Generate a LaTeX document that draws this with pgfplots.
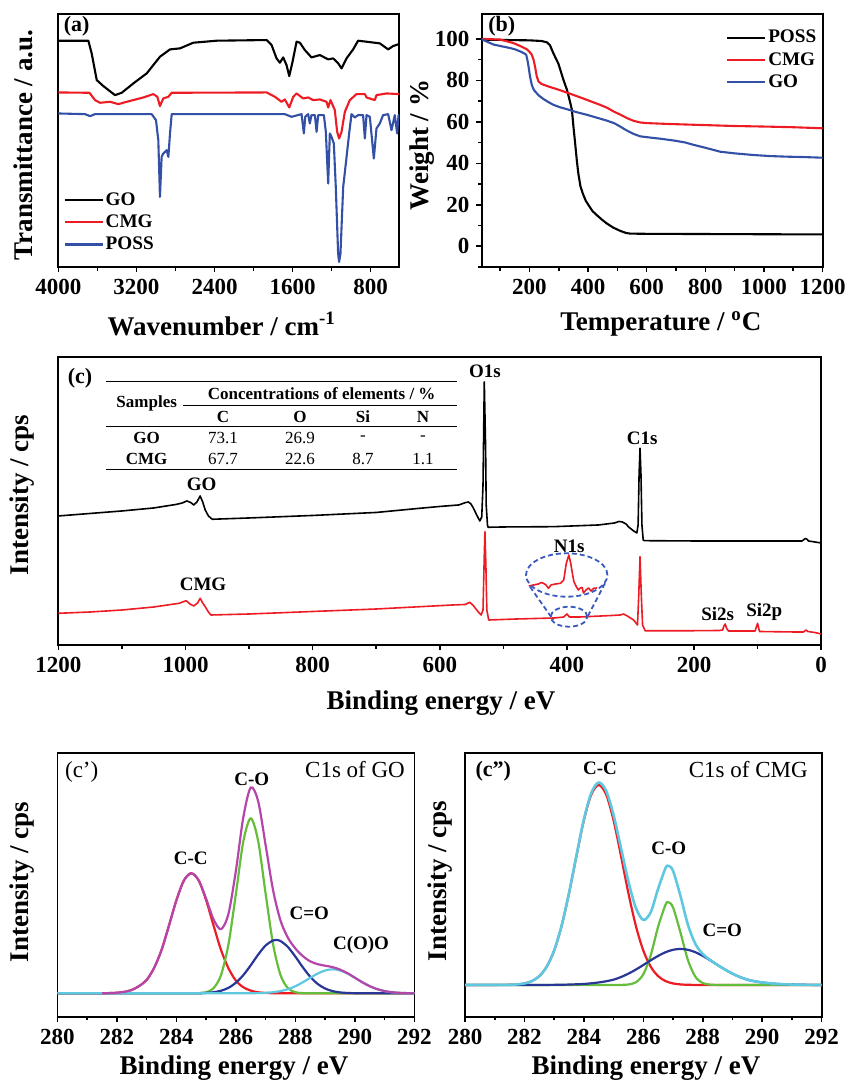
\documentclass[border=0pt]{standalone}
\usepackage{fontspec}
\setmainfont{Liberation Serif}
\usepackage{pgfplots}
\pgfplotsset{compat=1.18}

% colours picked off the figure
\definecolor{cRed}{RGB}{237,28,36}
\definecolor{cBlue}{RGB}{50,80,165}
\definecolor{fGreen}{RGB}{100,190,60}
\definecolor{fBlue}{RGB}{40,55,150}
\definecolor{fCyan}{RGB}{95,200,225}
\definecolor{fPurple}{RGB}{180,70,170}
\definecolor{dashBlue}{RGB}{60,90,190}

\newcommand{\tickfont}{\bfseries\fontsize{11.5}{12}\selectfont}
\newcommand{\labfont}{\bfseries\fontsize{13.5}{14}\selectfont}
\newcommand{\annfont}{\bfseries\fontsize{9.5}{10}\selectfont}
\newcommand{\tagfont}{\bfseries\fontsize{11}{12}\selectfont}
\newcommand{\regfont}{\fontsize{11.5}{12}\selectfont}
\newcommand{\tabfont}{\fontsize{8.5}{9}\selectfont}

\pgfplotsset{
  panel/.style={
    scale only axis, anchor=north west,
    axis line style={line width=0.9pt},
    tick align=outside, tick pos=left,
    major tick length=2.6pt, minor tick length=1.8pt,
    tick style={black, line width=0.8pt},
    tick label style={font=\tickfont},
    /pgf/number format/assume math mode=true,
    /pgf/number format/1000 sep={},
    every axis plot/.append style={line width=1.05pt, line join=round},
    legend cell align=left,
    legend image code/.code={\draw[##1] (0pt,0pt) -- (19pt,0pt);},
    legend style={draw=none, fill=none, inner sep=0pt,
      font=\bfseries\fontsize{9.6}{10.5}\selectfont,
      nodes={inner ysep=1.6pt, inner xsep=1pt}},
  },
}

\begin{document}
\begin{tikzpicture}
\useasboundingbox (0pt,0pt) rectangle (423.5pt,-541pt);

% ---------------- (a) FTIR ----------------
\begin{axis}[panel, at={(29.2pt,-7pt)}, width=170.5pt, height=126.5pt,
  x dir=reverse, xmin=505, xmax=4000, ymin=0, ymax=758,
  xtick={800,1600,2400,3200,4000}, minor xtick={1200,2000,2800,3600},
  ytick=\empty,
  legend style={at={(axis description cs:0.014,0.309)}, anchor=north west}]
\addplot[black] coordinates {
(4000,678) (3693,678) (3659,640) (3607,560) (3539,542) (3420,515) (3351,522)
(3232,550) (3095,580) (2959,630) (2856,652) (2754,655) (2617,672) (2378,678)
(1866,680) (1815,665) (1764,625) (1730,612) (1696,628) (1662,605) (1634,572)
(1600,615) (1559,675) (1525,672) (1474,650) (1406,628) (1320,635) (1235,622)
(1184,625) (1132,610) (1098,595) (1047,625) (979,652) (928,678) (842,675)
(706,670) (620,652) (569,662) (507,668)};
\addplot[cRed] coordinates {
(4000,523) (3682,522) (3624,500) (3573,492) (3471,495) (3385,488) (3300,495)
(3129,508) (3027,518) (2986,510) (2959,482) (2925,505) (2873,510) (2839,522)
(1866,523) (1781,510) (1713,495) (1679,502) (1634,478) (1593,510) (1559,520)
(1491,505) (1440,508) (1389,500) (1320,502) (1252,495) (1235,478) (1211,500)
(1167,470) (1143,405) (1123,385) (1098,405) (1064,465) (1013,500) (945,518)
(859,518) (842,508) (757,500) (740,515) (637,520) (507,518)};
\addplot[cBlue] coordinates {
(4000,460) (3727,458) (3676,452) (3624,458) (3044,458) (3000,440) (2976,380)
(2959,210) (2942,330) (2925,340) (2890,350) (2873,330) (2856,400) (2839,458)
(1679,458) (1610,450) (1508,458) (1484,400) (1470,450) (1440,458) (1423,430)
(1406,455) (1371,455) (1354,405) (1337,455) (1279,455) (1259,405) (1235,250)
(1218,400) (1201,390) (1177,370) (1157,240) (1133,40) (1123,15) (1109,40)
(1081,240) (1054,310) (1020,400) (996,458) (962,448) (928,455) (877,455)
(859,385) (842,455) (808,450) (767,325) (740,415) (706,430) (672,455)
(620,458) (586,410) (552,455) (528,400) (514,455) (507,455)};
\legend{GO,CMG,POSS}
\end{axis}

% ---------------- (b) TGA ----------------
\begin{axis}[panel, at={(240.8pt,-7pt)}, width=170.5pt, height=126.5pt,
  xmin=37, xmax=1200, ymin=-10, ymax=112,
  xtick={200,400,...,1200}, minor xtick={100,300,...,1100},
  ytick={0,20,...,100}, minor ytick={-10,10,30,50,70,90},
  legend style={at={(axis description cs:0.716,0.95)}, anchor=north west}]
\addplot[black] coordinates {
(37,99.5) (100,99.5) (200,99.3) (240,99) (259,98.4) (270,97) (282,93) (299,88)
(316,80.3) (328,75.5) (338,70) (345,65.8) (350,58) (356,49.7) (362,41) (367,35)
(374,29) (382,25.5) (392,22) (402,19.8) (415,17) (430,15) (446,13) (464,11)
(486,9) (510,7.4) (530,6.4) (544,6.1) (600,6.0) (800,5.9) (1000,5.8) (1200,5.7)};
\addplot[cRed] coordinates {
(37,100) (100,99.7) (145,98) (170,96.5) (191,95) (200,93.8) (208,92.4) (214,90)
(219,86.8) (225,82) (231,79.5) (240,78.4) (248,77.9) (270,76.8) (293,75.8)
(320,74.5) (350,73) (396,70.6) (441,68.2) (465,66.8) (487,65) (510,63.5)
(533,61.8) (555,60.5) (578,59.7) (600,59.4) (669,59) (783,58.5) (897,58)
(1011,57.7) (1100,57.4) (1200,56.9)};
\addplot[cBlue] coordinates {
(37,99.8) (50,99) (77,97.3) (100,96.6) (134,95.6) (150,95) (168,94) (180,93.2)
(189,92.4) (193,90) (197,86.8) (202,82) (208,77.9) (213,76) (219,74.7)
(233,72.6) (248,71) (265,69.5) (282,68.2) (305,67) (328,66.1) (360,64.7)
(396,63.4) (430,62) (464,60.6) (490,59.3) (510,57.7) (530,56) (555,54.2)
(578,53) (601,52.6) (650,51.8) (692,51) (730,50.1) (760,48.9) (800,47.5)
(851,45.6) (900,44.8) (965,44) (1020,43.5) (1079,43.2) (1140,43) (1200,42.7)};
\legend{POSS,CMG,GO}
\end{axis}

% ---------------- (c) XPS survey ----------------
\begin{axis}[panel, at={(29.2pt,-178.3pt)}, width=381.4pt, height=144.2pt,
  x dir=reverse, xmin=0, xmax=1200, ymin=0, ymax=288.3,
  xtick={0,200,...,1200}, minor xtick={100,300,...,1100}, ytick=\empty,
  every axis plot/.append style={line width=0.8pt}]
\addplot[black] coordinates {
(1200,129) (1150,131.5) (1100,134) (1050,137) (1015,140.5) (1005,142) (998,144)
(992,142.5) (987,140) (982,143) (977,149) (973,143) (969,135) (964,129)
(958,125.7) (900,127) (800,129.5) (700,132.5) (631,136.7) (600,138.5) (570,140)
(560,142.3) (555,143) (551,141) (547,136.7) (542,130) (537,124) (534,128)
(532,160) (530,263) (528,200) (527,140) (525,120) (524,117.7) (500,118)
(421,118.3) (350,120) (325,122) (318,123.5) (313,123) (307,121) (303,118)
(295,114) (290,112) (288,120) (286.5,170) (285,196.7) (283.5,170) (282,120)
(280,105) (278,104.3) (200,104) (100,104) (30,104) (25,106.5) (22,105.5)
(20,104) (10,103) (0,102)};
\addplot[cRed] coordinates {
(1200,31.7) (1150,33) (1100,35) (1050,38) (1010,41.7) (999,44.3) (993,41)
(987,39) (981,42) (977,46.7) (973,42) (969,38.3) (964,33) (960,30) (900,31)
(800,33.5) (700,36) (631,38.3) (580,40) (560,40.5) (553,42.7) (548,40)
(544,36.7) (538,32) (535,30) (532,35) (530,90) (529,113.3) (527.5,80) (526,35)
(523,25) (480,26) (420,27) (405,28) (400,31) (396,28) (380,28) (330,29.5)
(316,30) (311,31) (305,29) (295,25) (289,20) (287,50) (285,88.3) (283,50)
(281,20) (277,14.3) (200,14.3) (160,14.5) (155,15) (153,19) (151,21) (149,17)
(146,14) (110,14) (104,14) (102,18) (100,21.7) (98,16) (97,13.5) (40,13)
(28,13) (24,15) (21,13.5) (10,12.5) (0,11)};
% magnified N1s region
\addplot[cRed] coordinates {
(460,59) (452,60) (445,61) (440,62.5) (437,61.7) (433,60) (429,56.7) (425,60)
(418,61) (410,61.7) (405,65) (401,81.7) (397,90) (394,81.7) (391,70) (389,63.3)
(385,58) (382,55) (379,57) (376,57.5) (374,52) (370,55) (366,57) (362,54)
(358,56.7) (353,57)};
\end{axis}

% ---------------- (c') C1s of GO ----------------
\begin{axis}[panel, at={(28.7pt,-376.3pt)}, width=178.5pt, height=132pt,
  xmin=280, xmax=292, ymin=-70, ymax=722,
  xtick={280,282,...,292}, minor xtick={281,283,...,291}, ytick=\empty,
  every axis plot/.append style={line width=1.1pt, smooth, tension=0.5}]
\addplot[cRed] coordinates {
(280,0) (281.5,0.2) (281.75,0.6) (282,1.6) (282.25,4.2) (282.5,10) (282.75,22)
(283,40) (283.25,76) (283.5,130) (283.75,203) (284,279) (284.25,338) (284.5,360)
(284.75,338) (285,279) (285.25,203) (285.5,130) (285.75,75) (286,38) (286.25,18)
(286.5,8) (286.75,3) (287,1) (287.25,0.3) (287.5,0) (292,0)};
\addplot[fGreen] coordinates {
(280,0) (284.5,0) (284.75,0.5) (285,3.2) (285.25,15.3) (285.5,54.6) (285.75,147)
(286,298.1) (286.25,455.7) (286.5,525) (286.75,455.7) (287,298.1) (287.25,147)
(287.5,54.6) (287.75,15.3) (288,3.2) (288.25,0.5) (288.5,0) (292,0)};
\addplot[fBlue] coordinates {
(280,0) (284.5,0.1) (284.75,0.4) (285,1.2) (285.25,3.2) (285.5,7.6) (285.75,16.4)
(286,31.7) (286.25,54.6) (286.5,84.2) (286.75,116.2) (287,143.5) (287.25,158.6)
(287.35,160) (287.5,156.8) (287.75,138.7) (288,109.9) (288.25,77.9) (288.5,49.4)
(288.75,28) (289,14.2) (289.25,6.5) (289.5,2.6) (289.75,1) (290,0.3) (290.25,0)
(292,0)};
\addplot[fCyan] coordinates {
(280,0) (286,0) (286.25,0.06) (286.5,0.2) (286.75,0.5) (287,1.4) (287.25,3.2)
(287.5,6.6) (287.75,12.4) (288,21.2) (288.25,33) (288.5,46.4) (288.75,59.3)
(289,68.5) (289.25,72) (289.5,68.5) (289.75,59.3) (290,46.4) (290.25,33)
(290.5,21.2) (290.75,12.4) (291,6.6) (291.25,3.2) (291.5,1.4) (291.75,0.5)
(292,0.2)};
\addplot[fPurple] coordinates {
(281.5,0.2) (281.75,0.6) (282,1.6) (282.25,4.2) (282.5,10) (282.75,22) (283,40)
(283.25,76) (283.5,130) (283.75,203) (284,279) (284.25,338) (284.5,360.1)
(284.75,338.9) (285,283.4) (285.25,221.5) (285.5,192.2) (285.75,238.4)
(286,367.8) (286.25,528.4) (286.5,617.4) (286.75,575.4) (287,444) (287.25,309.1)
(287.5,218) (287.75,166.4) (288,134.3) (288.25,111.4) (288.5,95.8) (288.75,87.3)
(289,82.7) (289.25,78.5) (289.5,71.1) (289.75,60.3) (290,46.7) (290.25,33)
(290.5,21.2) (290.75,12.4) (291,6.6) (291.25,3.2) (291.5,1.4) (291.75,0.5)
(292,0.2)};
\end{axis}

% ---------------- (c'') C1s of CMG ----------------
\begin{axis}[panel, at={(232.5pt,-376.3pt)}, width=178.3pt, height=132pt,
  xmin=280, xmax=292, ymin=-95, ymax=697,
  xtick={280,282,...,292}, minor xtick={281,283,...,291}, ytick=\empty,
  every axis plot/.append style={line width=1.1pt, smooth, tension=0.5}]
\addplot[cRed] coordinates {
(280,0) (281.25,0.2) (281.5,0.5) (281.75,1.6) (282,4.5) (282.25,11.5) (282.5,26.3)
(282.75,54.8) (283,103.2) (283.25,177) (283.5,274.8) (283.75,386.4) (284,493.8)
(284.25,571.2) (284.5,600) (284.75,571.2) (285,493.8) (285.25,386.4)
(285.5,274.8) (285.75,177) (286,103.2) (286.25,54.8) (286.5,26.3) (286.75,11.5)
(287,4.5) (287.25,1.6) (287.5,0.5) (287.75,0.16) (288,0) (292,0)};
\addplot[fGreen] coordinates {
(280,0) (285,0) (285.25,0.17) (285.5,1.4) (285.75,8) (286,32) (286.25,89.4)
(286.5,175.3) (286.75,241.1) (286.85,248) (287,232.7) (287.25,157.6) (287.5,74.9)
(287.75,25) (288,5.8) (288.25,1) (288.5,0.1) (288.75,0) (292,0)};
\addplot[fBlue] coordinates {
(280,0) (282.5,0) (282.75,0.1) (283,0.3) (283.25,0.6) (283.5,1.2) (283.75,2)
(284,3) (284.25,5) (284.5,7.5) (284.75,11) (285,15.9) (285.25,23.8) (285.5,33.9)
(285.75,46.1) (286,59.8) (286.25,74) (286.5,87.3) (286.75,98.3) (287,105.5)
(287.25,108) (287.5,105.5) (287.75,98.3) (288,87.3) (288.25,74) (288.5,59.8)
(288.75,46.1) (289,33.9) (289.25,23.8) (289.5,15.9) (289.75,11) (290,7.5)
(290.25,5) (290.5,3) (290.75,2) (291,1.2) (291.25,0.6) (291.5,0.3) (291.75,0.1)
(292,0)};
\addplot[fCyan, line width=1.3pt] coordinates {
(280,0) (281.25,0.2) (281.5,0.5) (281.75,1.6) (282,4.5) (282.25,11.5) (282.5,26.3)
(282.75,54.9) (283,103.5) (283.25,177.6) (283.5,276) (283.75,388.4) (284,496.8)
(284.25,576.2) (284.5,607.5) (284.75,582.2) (285,509.7) (285.25,410.4)
(285.5,310.1) (285.75,231.1) (286,195) (286.25,218.2) (286.5,288.9)
(286.75,350.9) (286.85,357) (287,342.7) (287.25,267.2) (287.5,180.9)
(287.75,123.5) (288,93.1) (288.25,75) (288.5,59.9) (288.75,46.1) (289,33.9)
(289.25,23.8) (289.5,15.9) (289.75,11) (290,7.5) (290.25,5) (290.5,3) (290.75,2)
(291,1.2) (291.25,0.6) (291.5,0.3) (291.75,0.1) (292,0)};
\end{axis}

% ---------------- texts, table and inset marks (1 unit = 1 px of the reference) ----------------
\begin{scope}[x=0.5pt, y=-0.5pt]
% axis titles
\node[rotate=90, font=\labfont] at (23,145) {Transmittance / a.u.};
\node[font=\labfont] at (221.7,324) {Wavenumber / cm\textsuperscript{-1}};
\node[rotate=90, font=\labfont] at (421.7,145) {Weight / \%};
\node[font=\labfont] at (660.8,324) {Temperature / \textsuperscript{o}C};
\node[rotate=90, font=\labfont] at (22,495) {Intensity / cps};
\node[font=\labfont] at (441,703) {Binding energy / eV};
\node[rotate=90, font=\labfont] at (22,882) {Intensity / cps};
\node[font=\labfont] at (234,1068) {Binding energy / eV};
\node[rotate=90, font=\labfont] at (440,881) {Intensity / cps};
\node[font=\labfont] at (646,1068) {Binding energy / eV};
% panel tags
\node[font=\tagfont] at (76.7,26.7) {(a)};
\node[font=\tagfont] at (501.7,26.7) {(b)};
\node[font=\tagfont] at (80,378.3) {(c)};
\node[font=\regfont] at (81.7,771.7) {(c’)};
\node[font=\regfont] at (355,770) {C1s of GO};
\node[font=\tagfont] at (493.3,770.7) {(c”)};
\node[font=\regfont] at (748.3,770) {C1s of CMG};
% survey labels
\node[font=\annfont] at (201.7,484) {GO};
\node[font=\annfont] at (203,584) {CMG};
\node[font=\annfont] at (485,371.7) {O1s};
\node[font=\annfont] at (642.3,438.3) {C1s};
\node[font=\annfont] at (569.3,546) {N1s};
\node[font=\annfont] at (717.7,614) {Si2s};
\node[font=\annfont] at (764.3,611.7) {Si2p};
% peak labels
\node[font=\annfont] at (190.7,858.3) {C-C};
\node[font=\annfont] at (251.7,779.3) {C-O};
\node[font=\annfont] at (309.3,913.3) {C=O};
\node[font=\annfont] at (361,945) {C(O)O};
\node[font=\annfont] at (600,768.3) {C-C};
\node[font=\annfont] at (668.7,848.3) {C-O};
\node[font=\annfont] at (722.3,930.7) {C=O};
% N1s magnifier
\draw[dashBlue, line width=0.9pt, dash pattern=on 2.5pt off 1.5pt]
  (566.7,575) ellipse [x radius=20.35pt, y radius=10.85pt];
\draw[dashBlue, line width=0.9pt, dash pattern=on 2.5pt off 1.5pt]
  (569,616.7) ellipse [x radius=9.15pt, y radius=5pt];
\draw[dashBlue, line width=0.9pt, dash pattern=on 2.5pt off 1.5pt]
  (530,586.7) -- (553.3,620);
\draw[dashBlue, line width=0.9pt, dash pattern=on 2.5pt off 1.5pt]
  (605,583.3) -- (586.7,618.3);
% element table
\draw[line width=0.7pt] (106,381.7) -- (457.3,381.7);
\draw[line width=0.5pt] (183.3,405) -- (457.3,405);
\draw[line width=0.5pt] (106,426.7) -- (457.3,426.7);
\draw[line width=0.7pt] (106,469.3) -- (457.3,469.3);
\begin{scope}[every node/.style={font=\tabfont\bfseries}]
\node at (146.7,403.3) {Samples};
\node at (321.7,394) {Concentrations of elements / \%};
\node at (223,416.7) {C};
\node at (300,416.7) {O};
\node at (363,416.7) {Si};
\node at (423,416.7) {N};
\node at (146.7,438.3) {GO};
\node at (146.7,459.3) {CMG};
\end{scope}
\begin{scope}[every node/.style={font=\tabfont}]
\node at (223,438.3) {73.1};
\node at (300,438.3) {26.9};
\node at (363,438.3) {-};
\node at (423,438.3) {-};
\node at (223,459.3) {67.7};
\node at (300,459.3) {22.6};
\node at (363,459.3) {8.7};
\node at (423,459.3) {1.1};
\end{scope}
\end{scope}
\end{tikzpicture}
\end{document}
